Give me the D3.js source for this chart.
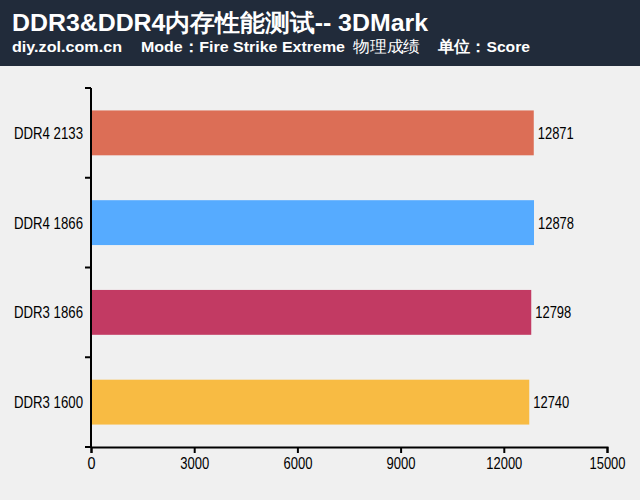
<!DOCTYPE html><html><head><meta charset="utf-8"><script src="https://cdn.jsdelivr.net/npm/d3@7"></script>
<style>body{margin:0;background:#f0f0f0}svg{display:block}</style></head><body><svg width="640" height="500"></svg>
<script>
const categories=["DDR4 2133","DDR4 1866","DDR3 1866","DDR3 1600"];
const values=[12871,12878,12798,12740];
const colors=["#dc6e56","#56abff","#c23a63","#f8bb43"];
const xTicks=[0,3000,6000,9000,12000,15000];
const title="DDR3&DDR4内存性能测试-- 3DMark";
const subtitle=["diy.zol.com.cn","Mode：Fire Strike Extreme","物理成绩","单位：Score"];
const svg=d3.select("svg");
const hf="Liberation Sans, Arial, sans-serif";
svg.append("rect").attr("width",640).attr("height",500).attr("fill","#f0f0f0");
svg.append("rect").attr("width",640).attr("height",66).attr("fill","#212b3a");
svg.append("text").attr("x",12).attr("y",31).attr("fill","#fff").attr("font-family",hf).attr("font-weight","bold").attr("font-size",24).attr("textLength",416).attr("lengthAdjust","spacingAndGlyphs").text(title);
[[12,110,subtitle[0]],[141,204,subtitle[1]],[353,67,subtitle[2]],[438,92,subtitle[3]]].forEach(([x,w,t],i)=>
 svg.append("text").attr("x",x).attr("y",52).attr("fill","#fff").attr("font-family",hf).attr("font-weight",i==2?"normal":"bold").attr("font-size",15.5).attr("textLength",w).attr("lengthAdjust","spacingAndGlyphs").text(t));
const x=d3.scaleLinear().domain([0,15000]).range([91,607]);
const y=d3.scaleBand().domain(categories).range([88,447]).paddingInner(0.5).paddingOuter(0.25);
const font="Liberation Sans, Arial, sans-serif";
svg.selectAll(".bar").data(values).join("rect").attr("x",x(0)).attr("y",(d,i)=>y(categories[i])).attr("width",d=>x(d)-x(0)).attr("height",y.bandwidth()).attr("fill",(d,i)=>colors[i]);
svg.selectAll(".val").data(values).join("text").attr("x",d=>x(d)+4).attr("y",(d,i)=>y(categories[i])+y.bandwidth()/2+6).attr("font-family",font).attr("font-size",16).attr("textLength",36).attr("lengthAdjust","spacingAndGlyphs").text(d=>d);
svg.selectAll(".cat").data(categories).join("text").attr("x",14).attr("y",d=>y(d)+y.bandwidth()/2+6).attr("font-family",font).attr("font-size",16).attr("textLength",69).attr("lengthAdjust","spacingAndGlyphs").text(d=>d);
const step=(447-88)/4;
svg.append("line").attr("x1",x(0)).attr("x2",x(0)).attr("y1",88).attr("y2",447).attr("stroke","#000").attr("stroke-width",2);
d3.range(5).forEach(i=>svg.append("line").attr("x1",x(0)-6).attr("x2",x(0)).attr("y1",88+i*step).attr("y2",88+i*step).attr("stroke","#000").attr("stroke-width",2));
const ax=svg.append("g").attr("transform","translate(0,447)").call(d3.axisBottom(x).tickValues(xTicks).tickSize(6).tickFormat(d3.format("d")));
ax.select(".domain").attr("stroke","#000").attr("stroke-width",2);
ax.selectAll(".tick line").attr("stroke","#000").attr("stroke-width",2);
ax.selectAll("text").attr("font-family",font).attr("font-size",16).attr("fill","#000").attr("dy","0.8em").attr("textLength",d=>d===0?8:d<10000?29:36).attr("lengthAdjust","spacingAndGlyphs");
</script></body></html>
